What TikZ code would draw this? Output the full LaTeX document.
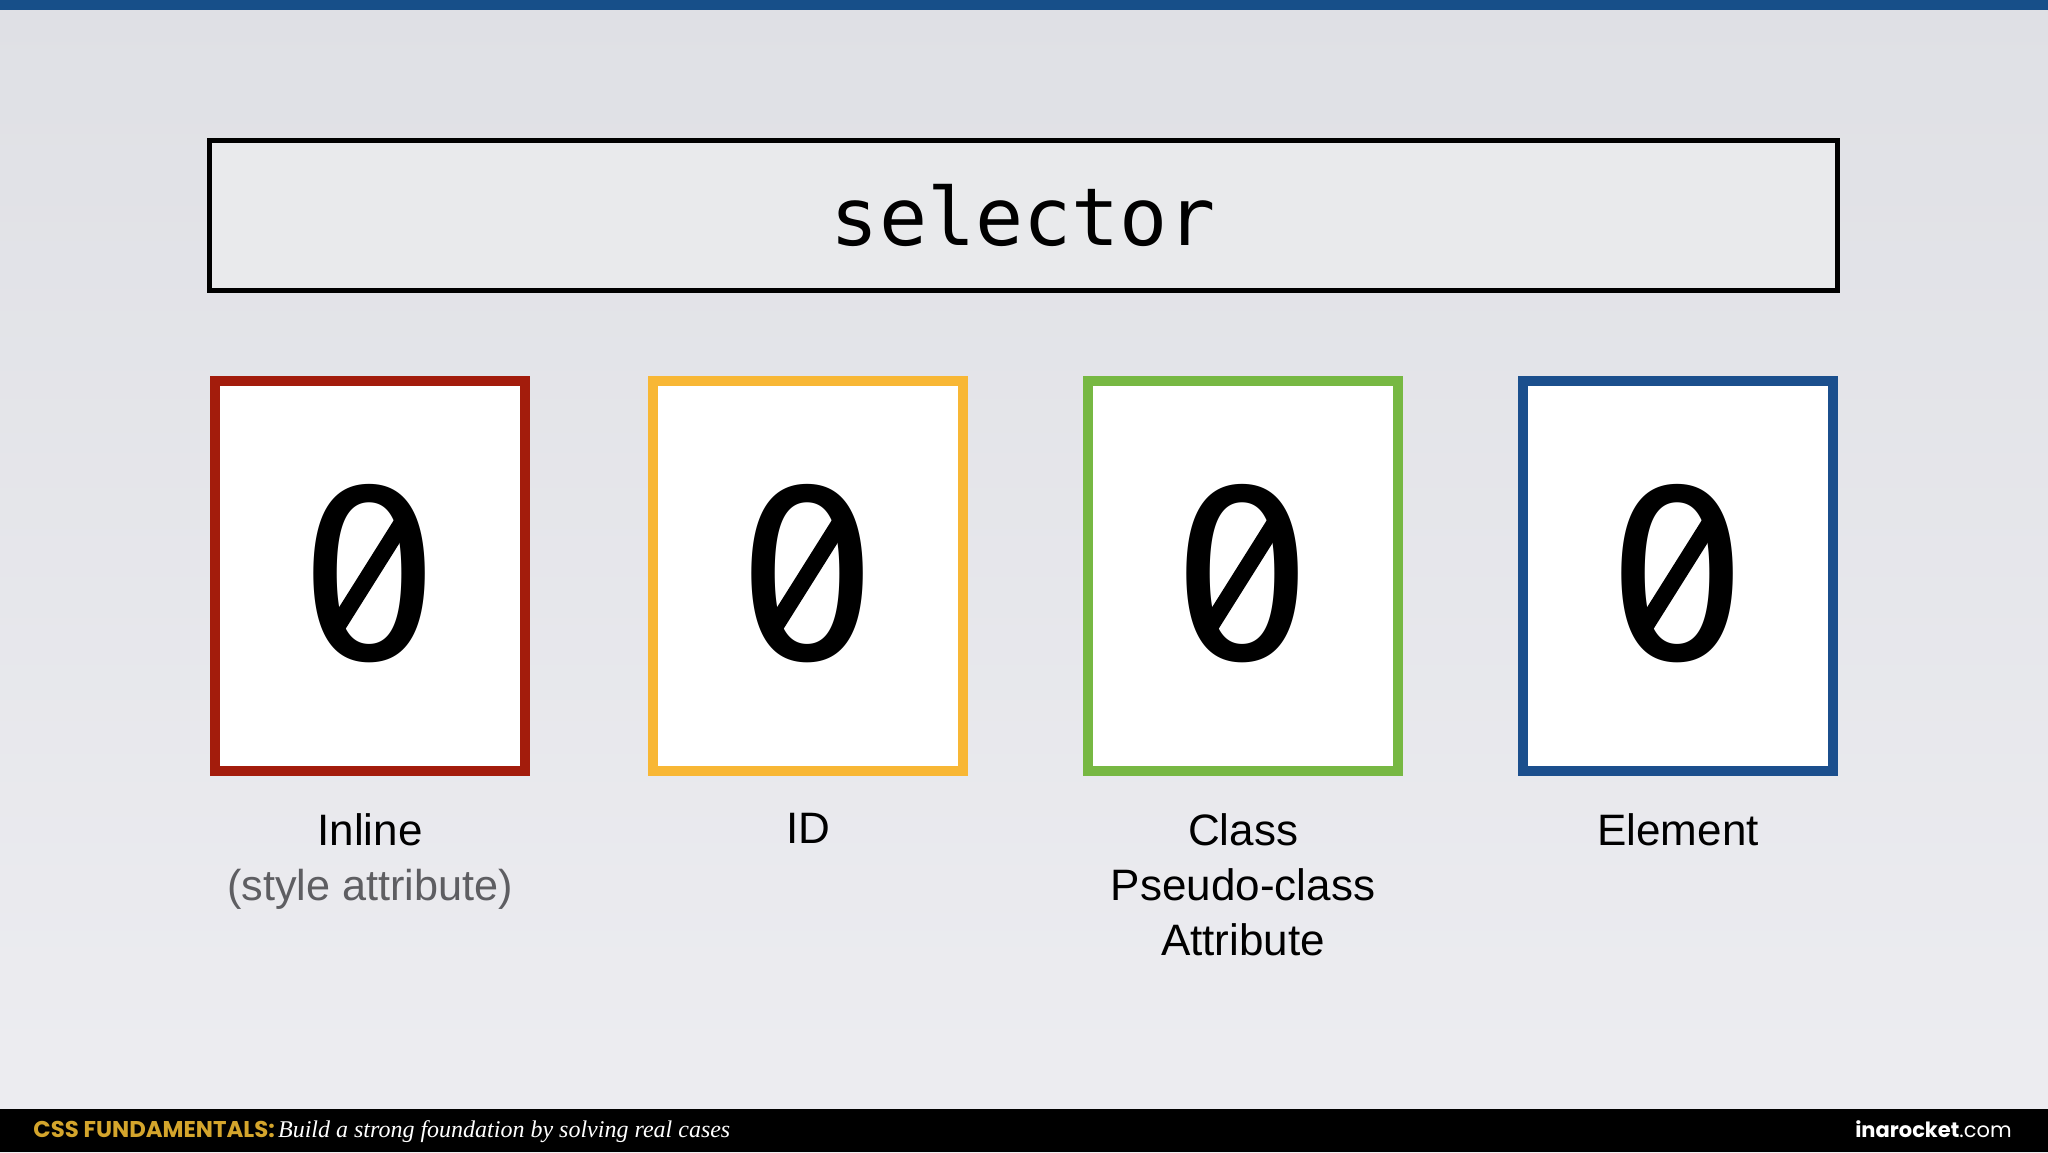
\documentclass[tikz,border=0pt]{standalone}
\usepackage{fontspec}
\setmainfont{Liberation Sans}
\newfontfamily\monofont{DejaVu Sans Mono}
\newfontfamily\footsans{Poppins}
\newfontfamily\footserif{Liberation Serif}
\definecolor{bgtop}{HTML}{DFE0E5}
\definecolor{bgbot}{HTML}{EDEDF1}
\definecolor{topbar}{HTML}{174F89}
\definecolor{selfill}{HTML}{E9EAEC}
\definecolor{cred}{HTML}{A31C0C}
\definecolor{cyellow}{HTML}{F8B735}
\definecolor{cgreen}{HTML}{77B843}
\definecolor{cblue}{HTML}{1B4F8D}
\definecolor{subgray}{HTML}{5E5E62}
\definecolor{gold}{HTML}{D4A52C}
\tikzset{
  scorebox/.style={draw=#1, line width=5pt, fill=white, minimum width=155pt, minimum height=195pt, inner sep=0pt},
  digit/.style={inner sep=0pt, font=\monofont\fontsize{118}{118}\selectfont},
  lbl/.style={anchor=north, align=center, inner sep=0pt, font=\fontsize{22}{27.5}\selectfont},
}
% turn DejaVu's dotted zero into a slashed zero
\newcommand{\slashover}[1]{%
  \fill[white] (#1) ellipse [x radius=27, y radius=52];
  \begin{scope}
    \clip (#1) ellipse [x radius=40, y radius=74];
    \draw[line width=8.5pt] ($(#1)+(44,-70)$) -- ($(#1)+(-44,70)$);
  \end{scope}}
\usetikzlibrary{calc}
\begin{document}
\begin{tikzpicture}[x=0.5pt,y=-0.5pt]
\useasboundingbox (0,0) rectangle (2048,1152);
\shade[top color=bgtop, bottom color=bgbot] (0,0) rectangle (2048,1152);
\fill[topbar] (0,0) rectangle (2048,10);
\fill[black] (0,1109) rectangle (2048,1152);

\node[draw=black, line width=2.5pt, fill=selfill, minimum width=814pt, minimum height=75pt, inner sep=0pt,
  font=\monofont\fontsize{40}{40}\selectfont] (sel) at (1023.5,215.5) {selector};

\node[scorebox=cred] (inl) at (370,576) {};
\node[scorebox=cyellow] (idb) at (808,576) {};
\node[scorebox=cgreen] (cls) at (1243,576) {};
\node[scorebox=cblue] (elm) at (1678,576) {};

\node[digit] (dinl) at (370,574) {0};
\node[digit] (didb) at (808,574) {0};
\node[digit] (dcls) at (1243,574) {0};
\node[digit] (delm) at (1678,574) {0};
\slashover{dinl}
\slashover{didb}
\slashover{dcls}
\slashover{delm}

\node[lbl] (linl) at (370,813) {Inline\\\textcolor{subgray}{\fontsize{21.6}{27.5}\selectfont(style attribute)}};
\node[lbl] (lid) at (808,813) {ID};
\node[lbl] (lcls) at (1243,813) {Class\\Pseudo-class\\Attribute};
\node[lbl] (lelm) at (1678,813) {Element};

\node[anchor=base west, inner sep=0pt] (foot) at (33,1137)
  {{\footsans\bfseries\fontsize{11.4}{12}\selectfont\color{gold}CSS FUNDAMENTALS:}\,{\footserif\itshape\fontsize{12}{13}\selectfont\color{white}Build a strong foundation by solving real cases}};
\node[anchor=base east, inner sep=0pt, text=white] (brand) at (2012,1137)
  {\footsans\fontsize{10.5}{12}\selectfont{\bfseries inarocket}.com};
\end{tikzpicture}
\end{document}
